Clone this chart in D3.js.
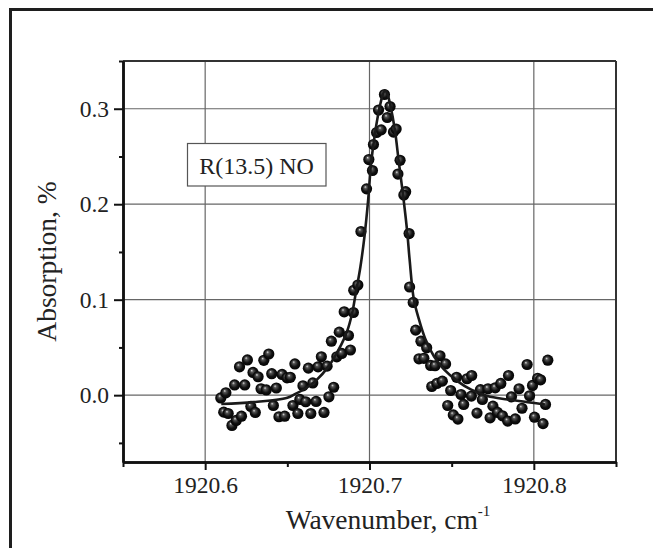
<!DOCTYPE html>
<html>
<head>
<meta charset="utf-8">
<script src="https://cdn.jsdelivr.net/npm/d3@7"></script>
<style>
  body { margin: 0; background: #fff; }
  svg text { font-family: "Liberation Serif", "Times New Roman", serif; fill: #222; }
</style>
</head>
<body>
<div id="chart"></div>
<script>
var wavenumber = [
  1920.6095, 1920.6126, 1920.6113, 1920.6140, 1920.6163, 1920.6189, 1920.6221, 1920.6179, 1920.6241, 1920.6209,
  1920.6257, 1920.6291, 1920.6322, 1920.6278, 1920.6305, 1920.6340, 1920.6372, 1920.6357, 1920.6387, 1920.6405,
  1920.6433, 1920.6415, 1920.6449, 1920.6484, 1920.6468, 1920.6498, 1920.6518, 1920.6546, 1920.6534, 1920.6564,
  1920.6576, 1920.6612, 1920.6595, 1920.6628, 1920.6643, 1920.6655, 1920.6675, 1920.6687, 1920.6707, 1920.6723,
  1920.6742, 1920.6753, 1920.6782, 1920.6768, 1920.6801, 1920.6816, 1920.6831, 1920.6846, 1920.6872, 1920.6884,
  1920.6902, 1920.6904, 1920.6929, 1920.6948, 1920.6982, 1920.6996, 1920.7018, 1920.7024, 1920.7043, 1920.7071,
  1920.7055, 1920.7091, 1920.7125, 1920.7108, 1920.7146, 1920.7162, 1920.7186, 1920.7173, 1920.7220, 1920.7209,
  1920.7241, 1920.7244, 1920.7266, 1920.7281, 1920.7313, 1920.7348, 1920.7301, 1920.7331, 1920.7372, 1920.7429,
  1920.7399, 1920.7463, 1920.7379, 1920.7410, 1920.7443, 1920.7494, 1920.7530, 1920.7593, 1920.7622, 1920.7557,
  1920.7476, 1920.7510, 1920.7538, 1920.7573, 1920.7620, 1920.7654, 1920.7675, 1920.7687, 1920.7721, 1920.7751,
  1920.7734, 1920.7765, 1920.7799, 1920.7846, 1920.7779, 1920.7809, 1920.7841, 1920.7864, 1920.7910, 1920.7887,
  1920.7959, 1920.7928, 1920.7974, 1920.7992, 1920.8023, 1920.8041, 1920.8085, 1920.8071, 1920.8004, 1920.8056
]
var absorption = [
  -0.0029, 0.0025, -0.0178, -0.0192, -0.0317, -0.0265, -0.0220, 0.0107, 0.0107, 0.0297,
  0.0369, 0.0238, 0.0193, -0.0118, -0.0181, 0.0067, 0.0055, 0.0365, 0.0431, 0.0225,
  0.0075, -0.0108, -0.0226, -0.0220, 0.0217, 0.0182, 0.0187, 0.0327, -0.0108, -0.0192,
  -0.0045, -0.0069, 0.0098, 0.0283, -0.0192, 0.0128, -0.0066, 0.0297, 0.0402, -0.0181,
  0.0304, -0.0017, 0.0083, 0.0565, 0.0402, 0.0660, 0.0437, 0.0873, 0.0625, 0.0473,
  0.0866, 0.1099, 0.1154, 0.1714, 0.2161, 0.2468, 0.2353, 0.2625, 0.2751, 0.2779,
  0.2986, 0.3149, 0.3023, 0.2908, 0.2756, 0.2787, 0.2460, 0.2316, 0.2131, 0.2096,
  0.1693, 0.1133, 0.0971, 0.0681, 0.0565, 0.0496, 0.0381, 0.0386, 0.0311, 0.0413,
  0.0308, 0.0327, 0.0091, 0.0123, 0.0147, 0.0049, 0.0187, 0.0172, 0.0206, 0.0007,
  -0.0108, -0.0207, -0.0250, -0.0097, -0.0010, -0.0188, 0.0057, -0.0045, 0.0067, -0.0115,
  -0.0237, 0.0077, 0.0123, 0.0206, -0.0181, -0.0216, -0.0272, -0.0017, 0.0067, -0.0249,
  0.0321, -0.0137, -0.0006, 0.0102, 0.0177, 0.0161, 0.0366, -0.0097, -0.0231, -0.0298
]

// fitted profile
var fitWavenumber = [
  1920.6098, 1920.6293, 1920.6500, 1920.6549, 1920.6610, 1920.6671, 1920.6752, 1920.6813, 1920.6864, 1920.6895,
  1920.6915, 1920.6945, 1920.6970, 1920.6992, 1920.7010, 1920.7037, 1920.7063, 1920.7084, 1920.7095, 1920.7107,
  1920.7128, 1920.7154, 1920.7179, 1920.7206, 1920.7230, 1920.7244, 1920.7270, 1920.7301, 1920.7341, 1920.7392,
  1920.7453, 1920.7535, 1920.7616, 1920.7718, 1920.7840, 1920.7962, 1920.8067
]
var fitAbsorption = [
  -0.0092, -0.0073, -0.0027, 0.0013, 0.0070, 0.0147, 0.0304, 0.0479, 0.0670, 0.0863,
  0.1054, 0.1348, 0.1672, 0.2049, 0.2434, 0.2782, 0.3026, 0.3164, 0.3191, 0.3164,
  0.3026, 0.2782, 0.2434, 0.2070, 0.1701, 0.1421, 0.1002, 0.0793, 0.0583, 0.0408,
  0.0269, 0.0147, 0.0060, -0.0010, -0.0045, -0.0073, -0.0097
]

var xTicks = [1920.6, 1920.7, 1920.8]
var xMinorTicks = [1920.55, 1920.65, 1920.75, 1920.85]
var yTicks = [0.0, 0.1, 0.2, 0.3]
var yMinorTicks = [-0.05, 0.05, 0.15, 0.25, 0.35]
var xLabel = "Wavenumber, cm"
var xLabelSup = "-1"
var yLabel = "Absorption, %"
var boxLabel = "R(13.5) NO"

function drawChart(){
	var W = 653, H = 548
	var pL = 123, pR = 616, pT = 61, pB = 462
	var serif = '"Liberation Serif", "Times New Roman", serif'

	var svg = d3.select("#chart").append("svg").attr("width", W).attr("height", H)

	svg.append("rect").attr("width", W).attr("height", H).attr("fill", "#fff")
	// outer frame, only its top and left edges fall inside the picture
	svg.append("rect").attr("x", 10.5).attr("y", 9.5).attr("width", 900).attr("height", 900)
		.attr("fill", "none").attr("stroke", "#1e1e1e").attr("stroke-width", 3)

	var x = d3.scaleLinear().domain([1920.55, 1920.85]).range([pL, pR])
	var y = d3.scaleLinear().domain([-0.07, 0.35]).range([pB, pT])

	// grid
	svg.append("g").selectAll("line").data(xTicks).join("line")
		.attr("x1", d => x(d)).attr("x2", d => x(d)).attr("y1", pT).attr("y2", pB)
		.attr("stroke", "#666").attr("stroke-width", 1.2)
	svg.append("g").selectAll("line").data(yTicks).join("line")
		.attr("x1", pL).attr("x2", pR).attr("y1", d => y(d)).attr("y2", d => y(d))
		.attr("stroke", "#666").attr("stroke-width", 1.2)

	// top and right frame of the plot
	svg.append("line").attr("x1", pL).attr("x2", pR).attr("y1", pT).attr("y2", pT)
		.attr("stroke", "#333").attr("stroke-width", 2)
	svg.append("line").attr("x1", pR).attr("x2", pR).attr("y1", pT).attr("y2", pB)
		.attr("stroke", "#333").attr("stroke-width", 2)

	// label box
	svg.append("rect").attr("x", 187.5).attr("y", 143.5).attr("width", 138.5).attr("height", 42.5)
		.attr("fill", "#fff").attr("stroke", "#555").attr("stroke-width", 1.2)
	svg.append("text").attr("x", 256.5).attr("y", 174).attr("text-anchor", "middle")
		.style("font-family", serif).style("font-size", "24px").text(boxLabel)

	// axes
	var xAxis = svg.append("g").attr("transform", "translate(0," + pB + ")")
		.call(d3.axisBottom(x).tickValues(xTicks).tickFormat(d3.format(".1f")).tickSize(8).tickSizeOuter(0).tickPadding(6))
	svg.append("g").attr("transform", "translate(0," + pB + ")")
		.call(d3.axisBottom(x).tickValues(xMinorTicks).tickFormat("").tickSize(5).tickSizeOuter(0))
	var yAxis = svg.append("g").attr("transform", "translate(" + pL + ",0)")
		.call(d3.axisLeft(y).tickValues(yTicks).tickFormat(d3.format(".1f")).tickSize(9).tickSizeOuter(0).tickPadding(5))
	svg.append("g").attr("transform", "translate(" + pL + ",0)")
		.call(d3.axisLeft(y).tickValues(yMinorTicks).tickFormat("").tickSize(4).tickSizeOuter(0))

	svg.selectAll(".domain").attr("stroke", "#111").attr("stroke-width", 2.5)
	svg.selectAll(".tick line").attr("stroke", "#111").attr("stroke-width", 2)
	xAxis.selectAll("text").style("font-family", serif).style("font-size", "23.5px").attr("fill", "#222")
	yAxis.selectAll("text").style("font-family", serif).style("font-size", "23.5px").attr("fill", "#222")
		.attr("dy", "0.33em")

	// axis titles
	var xt = svg.append("text").attr("x", 388).attr("y", 529).attr("text-anchor", "middle")
		.style("font-family", serif).style("font-size", "27.5px")
	xt.append("tspan").text(xLabel)
	xt.append("tspan").attr("dy", -13).style("font-size", "15px").text(xLabelSup)

	svg.append("text").attr("transform", "translate(56," + ((pT + pB) / 2) + ") rotate(-90)")
		.attr("text-anchor", "middle").style("font-family", serif).style("font-size", "27.5px").text(yLabel)

	// ball markers
	var grad = svg.append("defs").append("radialGradient").attr("id", "ball")
		.attr("cx", "50%").attr("cy", "50%").attr("r", "55%").attr("fx", "38%").attr("fy", "32%")
	grad.append("stop").attr("offset", "0%").attr("stop-color", "#e0e0e0")
	grad.append("stop").attr("offset", "22%").attr("stop-color", "#555")
	grad.append("stop").attr("offset", "60%").attr("stop-color", "#111")
	grad.append("stop").attr("offset", "100%").attr("stop-color", "#000")

	var pts = wavenumber.map((d, i) => ({x: d, y: absorption[i]}))
	svg.append("g").selectAll("circle").data(pts).join("circle")
		.attr("cx", d => x(d.x)).attr("cy", d => y(d.y)).attr("r", 5.6)
		.attr("fill", "url(#ball)")

	var fit = fitWavenumber.map((d, i) => [d, fitAbsorption[i]])
	svg.append("path").datum(fit)
		.attr("d", d3.line().x(d => x(d[0])).y(d => y(d[1])).curve(d3.curveCatmullRom.alpha(0.5)))
		.attr("fill", "none").attr("stroke", "#1a1a1a").attr("stroke-width", 2.6)
}
drawChart()
</script>
</body>
</html>
